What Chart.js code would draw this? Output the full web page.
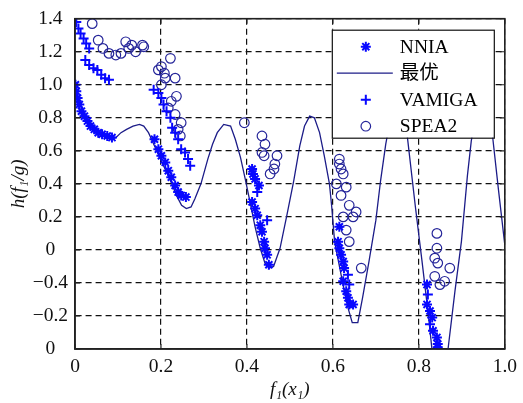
<!DOCTYPE html>
<html><head><meta charset="utf-8">
<script src="https://cdn.jsdelivr.net/npm/chart.js@4.4.1/dist/chart.umd.min.js"></script>
<style>html,body{margin:0;padding:0;background:#fff;}canvas{display:block;}</style>
</head><body>
<canvas id="c" width="523" height="403"></canvas>
<script>
const xTickLabels = ['0','0.2','0.4','0.6','0.8','1.0'];
const yTickLabels = ['0','\u22120.2','\u22120.4','0','0.2','0.4','0.6','0.8','1.0','1.2','1.4'];
const seriesNames = ['NNIA','最优','VAMIGA','SPEA2'];

const optimalX = [0.000,0.005,0.010,0.020,0.030,0.040,0.050,0.060,0.070,0.083,0.095,0.107,0.120,0.135,0.150,0.160,0.171,0.178,0.190,0.206,0.222,0.236,0.248,0.259,0.270,0.279,0.293,0.309,0.320,0.331,0.346,0.362,0.373,0.385,0.396,0.408,0.419,0.431,0.442,0.452,0.462,0.477,0.493,0.509,0.523,0.534,0.546,0.557,0.569,0.580,0.592,0.597,0.604,0.619,0.635,0.645,0.658,0.669,0.684,0.700,0.711,0.723,0.735,0.750,0.762,0.773,0.792,0.807,0.822,0.830,0.840,0.852,0.862,0.867,0.884,0.899,0.913,0.922,0.935,0.950,0.962,0.971,0.985,1.000];
const optimalY = [1.00,0.93,0.89,0.84,0.79,0.76,0.73,0.70,0.68,0.67,0.68,0.71,0.73,0.75,0.76,0.75,0.71,0.67,0.60,0.51,0.42,0.33,0.27,0.25,0.26,0.31,0.40,0.55,0.64,0.71,0.76,0.75,0.67,0.56,0.43,0.28,0.14,0.01,-0.08,-0.11,-0.10,0.01,0.21,0.42,0.63,0.75,0.81,0.80,0.71,0.57,0.40,0.27,0.05,-0.15,-0.35,-0.44,-0.44,-0.29,-0.07,0.18,0.42,0.64,0.81,0.88,0.86,0.69,0.26,-0.06,-0.39,-0.59,-0.72,-0.77,-0.74,-0.62,-0.25,0.05,0.45,0.66,0.85,0.96,0.93,0.70,0.37,0.03];

const nniaX = [0.001,0.003,0.006,0.010,0.015,0.022,0.029,0.036,0.045,0.054,0.063,0.075,0.086,
  0.185,0.194,0.201,0.210,0.217,0.224,0.233,0.240,0.247,0.258,
  0.412,0.414,0.419,0.428,0.412,0.419,0.424,0.431,0.435,0.440,0.442,0.447,0.451,
  0.615,0.612,0.615,0.619,0.624,0.626,0.624,0.631,0.635,0.638,0.647,
  0.819,0.819,0.826,0.831,0.833,0.842,0.844,0.844];
const nniaY = [1.00,0.96,0.92,0.88,0.84,0.81,0.78,0.75,0.73,0.71,0.70,0.69,0.68,
  0.67,0.61,0.57,0.53,0.48,0.44,0.39,0.35,0.33,0.32,
  0.49,0.46,0.43,0.39,0.29,0.25,0.21,0.15,0.11,0.05,0.01,-0.03,-0.09,
  0.14,0.05,0.01,-0.03,-0.07,-0.11,-0.19,-0.25,-0.29,-0.33,-0.33,
  -0.21,-0.33,-0.37,-0.41,-0.49,-0.53,-0.57,-0.59];

const vamigaX = [0.003,0.008,0.013,0.020,0.026,0.033,
  0.024,0.033,0.043,0.052,0.061,0.070,0.079,
  0.183,0.194,0.201,0.206,0.213,0.222,0.226,0.233,0.240,0.247,0.256,0.263,0.268,
  0.447,0.424,0.635,0.638,0.821,0.826];
const vamigaY = [1.38,1.34,1.31,1.28,1.25,1.22,
  1.15,1.12,1.10,1.09,1.06,1.04,1.03,
  0.97,0.95,0.92,0.88,0.84,0.80,0.74,0.71,0.67,0.61,0.59,0.55,0.51,
  0.18,0.35,-0.15,-0.21,-0.27,-0.45];

const spea2X = [0.040,0.054,0.065,0.079,0.095,0.107,0.118,0.125,0.132,0.141,0.157,0.160,
  0.222,0.201,0.194,0.208,0.210,0.233,0.201,0.236,0.224,0.217,0.233,0.247,0.240,0.245,0.394,
  0.435,0.442,0.435,0.440,0.470,0.465,0.463,0.454,
  0.615,0.615,0.619,0.624,0.608,0.631,0.619,0.638,0.654,0.647,0.624,0.631,0.638,0.666,
  0.842,0.842,0.837,0.844,0.872,0.837,0.860,0.849];
const spea2Y = [1.37,1.27,1.22,1.19,1.18,1.19,1.26,1.22,1.24,1.20,1.24,1.23,
  1.16,1.11,1.09,1.07,1.04,1.04,1.00,0.93,0.90,0.86,0.82,0.77,0.73,0.69,0.77,
  0.69,0.64,0.59,0.57,0.57,0.52,0.49,0.46,
  0.55,0.52,0.49,0.46,0.40,0.38,0.33,0.27,0.23,0.20,0.20,0.12,0.05,-0.11,
  0.10,0.01,-0.05,-0.08,-0.11,-0.16,-0.19,-0.21];

const pts = (xs, ys) => xs.map((x, i) => ({x: x, y: ys[i]}));
const SERIF = "'Liberation Serif', 'Times New Roman', 'Noto Sans CJK SC', serif";
Chart.defaults.font.family = SERIF;

const BLUE = '#0808ff';
const CURVE = '#1c1c88';
const CIRC = '#26269a';

const framePlugin = {
  id: 'frame',
  afterDatasetsDraw(chart) {
    const {ctx, chartArea: a, scales} = chart;
    ctx.save();
    ctx.strokeStyle = '#222';
    ctx.lineWidth = 1.2;
    const L = 5;
    ctx.beginPath();
    scales.x.ticks.forEach(t => {
      const px = scales.x.getPixelForValue(t.value);
      ctx.moveTo(px, a.bottom); ctx.lineTo(px, a.bottom - L);
      ctx.moveTo(px, a.top); ctx.lineTo(px, a.top + L);
    });
    scales.y.ticks.forEach(t => {
      const py = scales.y.getPixelForValue(t.value);
      ctx.moveTo(a.left, py); ctx.lineTo(a.left + L, py);
      ctx.moveTo(a.right, py); ctx.lineTo(a.right - L, py);
    });
    ctx.stroke();
    ctx.lineWidth = 1.6;
    ctx.strokeRect(a.left, a.top, a.right - a.left, a.bottom - a.top);
    ctx.restore();
  }
};

const legendPlugin = {
  id: 'boxLegend',
  afterDraw(chart) {
    const {ctx, chartArea: a} = chart;
    const bw = 162, bh = 108;
    const bx = a.right - 173, by = a.top + 11;
    ctx.save();
    ctx.fillStyle = '#fff';
    ctx.fillRect(bx, by, bw, bh);
    ctx.strokeStyle = '#111';
    ctx.lineWidth = 1.2;
    ctx.strokeRect(bx + 0.5, by + 0.5, bw, bh);
    const mx = bx + 34;
    chart.data.datasets.forEach((ds, i) => {
      const y = by + 17 + i * 26.5;
      if (ds.showLine) {
        ctx.strokeStyle = ds.borderColor;
        ctx.lineWidth = ds.borderWidth;
        ctx.beginPath(); ctx.moveTo(bx + 5, y); ctx.lineTo(bx + 61, y); ctx.stroke();
      } else {
        ctx.strokeStyle = ds.borderColor;
        ctx.fillStyle = ds.backgroundColor;
        ctx.lineWidth = ds.pointBorderWidth;
        Chart.helpers.drawPoint(ctx, {pointStyle: ds.pointStyle, radius: ds.pointRadius, borderWidth: ds.pointBorderWidth, rotation: 0}, mx, y);
      }
      ctx.fillStyle = '#000';
      ctx.font = '19.5px ' + SERIF;
      ctx.textAlign = 'left';
      ctx.textBaseline = 'middle';
      ctx.fillText(ds.label, bx + 68, y + 1);
    });
    ctx.restore();
  }
};

new Chart(document.getElementById('c').getContext('2d'), {
  type: 'scatter',
  data: {
    datasets: [
      {label: seriesNames[0], data: pts(nniaX, nniaY), pointStyle: 'star', pointRadius: 5,
       borderColor: BLUE, backgroundColor: BLUE, pointBorderWidth: 2, order: 1},
      {label: seriesNames[1], data: pts(optimalX, optimalY), showLine: true, pointRadius: 0,
       borderColor: CURVE, backgroundColor: CURVE, borderWidth: 1.3, tension: 0, order: 4},
      {label: seriesNames[2], data: pts(vamigaX, vamigaY), pointStyle: 'cross', pointRadius: 5,
       borderColor: BLUE, backgroundColor: BLUE, pointBorderWidth: 2, order: 2},
      {label: seriesNames[3], data: pts(spea2X, spea2Y), pointStyle: 'circle', pointRadius: 4.8,
       borderColor: CIRC, backgroundColor: 'rgba(0,0,0,0)', pointBorderWidth: 1.2, order: 3}
    ]
  },
  options: {
    responsive: false, animation: false, events: [],
    layout: {padding: {top: 14, right: 12, left: 0, bottom: 0}},
    plugins: {legend: {display: false}, tooltip: {enabled: false}},
    scales: {
      x: {
        type: 'linear', min: 0, max: 1,
        afterFit(s) { s.height = 54; },
        ticks: {stepSize: 0.2, autoSkip: false, maxRotation: 0, padding: 6, color: '#111',
          font: {size: 19.5}, callback: (v, i) => xTickLabels[i]},
        grid: {color: '#111', lineWidth: 1.2, drawTicks: false},
        border: {display: true, color: '#222', width: 1.6, dash: [6, 4]},
        title: {display: true, text: 'f\u2081(x\u2081)', color: '#111',
          font: {size: 19, style: 'italic'}, padding: {top: 0, bottom: 2}}
      },
      y: {
        type: 'linear', min: -0.6, max: 1.4,
        afterFit(s) { s.width = 75; },
        ticks: {stepSize: 0.2, autoSkip: false, padding: 7, crossAlign: 'center', color: '#111',
          font: {size: 19.5}, callback: (v, i) => yTickLabels[i]},
        grid: {color: '#111', lineWidth: 1.2, drawTicks: false},
        border: {display: true, color: '#222', width: 1.6, dash: [6, 4]},
        title: {display: true, text: 'h(f\u2081/g)', color: '#111',
          font: {size: 19, style: 'italic'}, padding: {top: 8, bottom: 0}}
      }
    }
  },
  plugins: [framePlugin, legendPlugin]
});
</script>
</body></html>
